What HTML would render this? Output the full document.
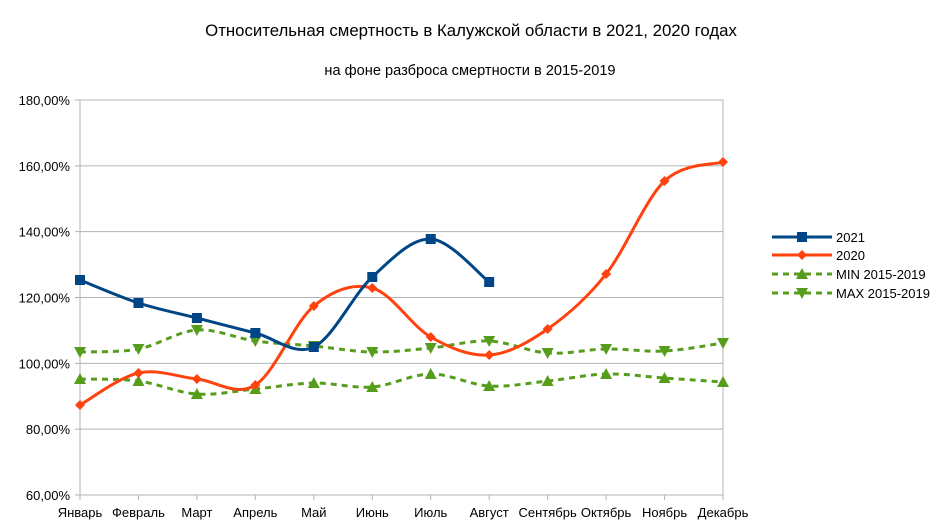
<!DOCTYPE html>
<html><head><meta charset="utf-8"><style>
body{margin:0;background:#fff;}
svg{display:block;font-family:"Liberation Sans",sans-serif;}
</style></head><body>
<svg id="s" width="941" height="530" viewBox="0 0 941 530" xmlns="http://www.w3.org/2000/svg">
<rect width="941" height="530" fill="#fff"/>
<text x="471" y="36" font-size="16.8" text-anchor="middle" fill="#000">Относительная смертность в Калужской области в 2021, 2020 годах</text>
<text x="470" y="75" font-size="14.6" text-anchor="middle" fill="#000">на фоне разброса смертности в 2015-2019</text>
<g id="grid" stroke="#b3b3b3" stroke-width="1"></g>
<g id="labels" font-size="13" fill="#000"></g>
<g id="series"></g>
<g font-size="13" fill="#000">
<line x1="772" y1="237" x2="832" y2="237" stroke="#004586" stroke-width="3"/><rect x="797" y="232" width="10" height="10" fill="#004586"/><text x="836" y="242">2021</text>
<line x1="772" y1="255" x2="832" y2="255" stroke="#ff420e" stroke-width="3"/><path d="M802 250 L807 255 L802 260 L797 255Z" fill="#ff420e"/><text x="836" y="260">2020</text>
<line x1="772" y1="274" x2="832" y2="274" stroke="#579d1c" stroke-width="3" stroke-dasharray="6,5"/><path d="M802 268 L808 279 L796 279Z" fill="#579d1c"/><text x="836" y="279">MIN 2015-2019</text>
<line x1="772" y1="293" x2="832" y2="293" stroke="#579d1c" stroke-width="3" stroke-dasharray="6,5"/><path d="M796 288 L808 288 L802 299Z" fill="#579d1c"/><text x="836" y="298">MAX 2015-2019</text>
</g>
</svg>
<script>
var NS="http://www.w3.org/2000/svg";
function el(p,t,a,txt){var e=document.createElementNS(NS,t);for(var k in a)e.setAttribute(k,a[k]);if(txt)e.textContent=txt;p.appendChild(e);return e;}
var g=document.getElementById('grid'),L=document.getElementById('labels'),S=document.getElementById('series');
var x0=80,x1=723,dx=(x1-x0)/11;
var yl=['180,00%','160,00%','140,00%','120,00%','100,00%','80,00%','60,00%'];
for(var i=0;i<7;i++){var y=100+i*65.83;el(g,'line',{x1:75,x2:723,y1:y,y2:y});el(L,'text',{x:70,y:y+5,'text-anchor':'end'},yl[i]);}
el(g,'line',{x1:80,x2:80,y1:100,y2:500});el(g,'line',{x1:723,x2:723,y1:100,y2:500});
var m=['Январь','Февраль','Март','Апрель','Май','Июнь','Июль','Август','Сентябрь','Октябрь','Ноябрь','Декабрь'];
for(var i=0;i<12;i++){var x=x0+i*dx;el(g,'line',{x1:x,x2:x,y1:495,y2:500});el(L,'text',{x:x,y:517,'text-anchor':'middle'},m[i]);}
function path(ys){var p=ys.map(function(y,i){return [x0+i*dx,y];});var d='M'+p[0][0]+' '+p[0][1];
for(var i=0;i<p.length-1;i++){var a=p[i-1]||p[i],b=p[i],c=p[i+1],e=p[i+2]||c;
d+=' C'+(b[0]+(c[0]-a[0])/6)+' '+(b[1]+(c[1]-a[1])/6)+' '+(c[0]-(e[0]-b[0])/6)+' '+(c[1]-(e[1]-b[1])/6)+' '+c[0]+' '+c[1];}return [d,p];}
function ser(ys,col,dash,mk){var r=path(ys);var a={d:r[0],fill:'none',stroke:col,'stroke-width':3};if(dash)a['stroke-dasharray']='6,5';el(S,'path',a);
r[1].forEach(function(q){var x=q[0],y=q[1],d;
if(mk=='sq')el(S,'rect',{x:x-5,y:y-5,width:10,height:10,fill:col});
else{if(mk=='di')d='M'+x+' '+(y-5)+' L'+(x+5)+' '+y+' L'+x+' '+(y+5)+' L'+(x-5)+' '+y+'Z';
if(mk=='up')d='M'+x+' '+(y-6)+' L'+(x+6)+' '+(y+5)+' L'+(x-6)+' '+(y+5)+'Z';
if(mk=='dn')d='M'+(x-6)+' '+(y-5)+' L'+(x+6)+' '+(y-5)+' L'+x+' '+(y+6)+'Z';
el(S,'path',{d:d,fill:col});}});}
ser([379,381,394,389,383,387,374,386,381,374,378,382],'#579d1c',1,'up');
ser([352,349,330,341,346,352,348,341,353,349,351,343],'#579d1c',1,'dn');
ser([405,373,379,385,306,288,337,355,329,274,181,162],'#ff420e',0,'di');
ser([280,303,318,333,347,277,239,282],'#004586',0,'sq');
</script>
</body></html>
